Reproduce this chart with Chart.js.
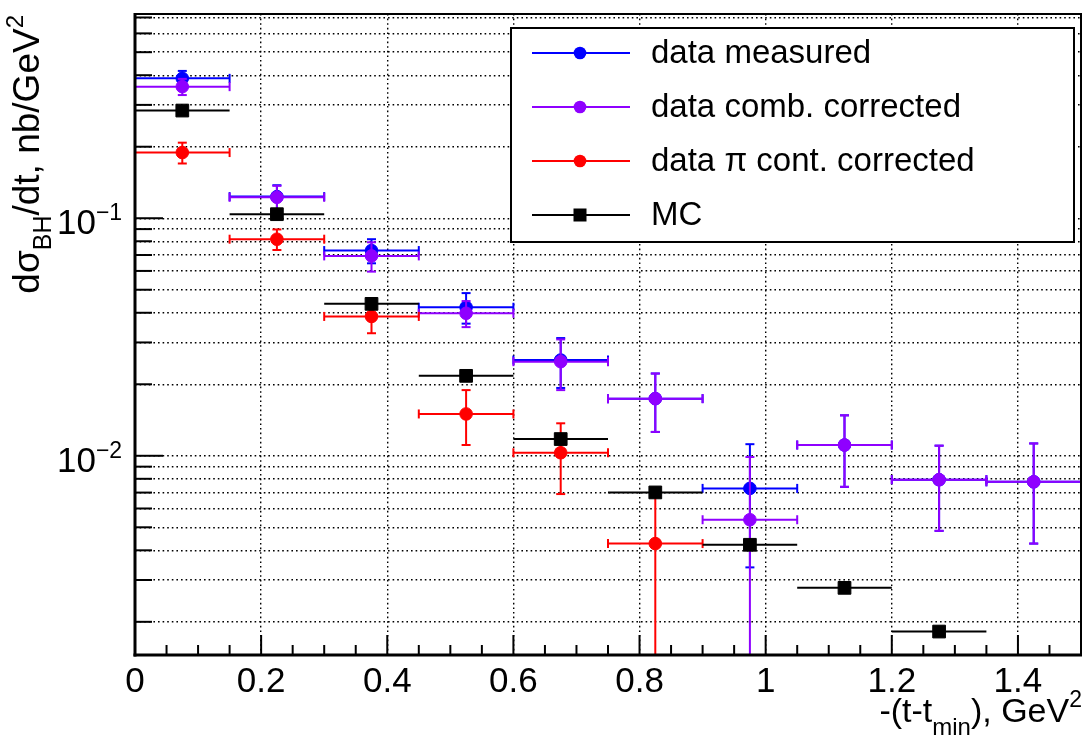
<!DOCTYPE html>
<html>
<head>
<meta charset="utf-8">
<script src="https://cdn.jsdelivr.net/npm/chart.js@4/dist/chart.umd.min.js"></script>
<style>
  html, body { margin: 0; padding: 0; background: #fff; }
</style>
</head>
<body>
<canvas id="myChart" width="1091" height="749"></canvas>
<script>
// bins in -(t-tmin), GeV^2
const binCenters = [0.075, 0.225, 0.375, 0.525, 0.675, 0.825, 0.975, 1.125, 1.275, 1.425];
const binHalfWidths = [0.075, 0.075, 0.075, 0.075, 0.075, 0.075, 0.075, 0.075, 0.075, 0.075];

// dsigma/dt, nb/GeV^2
const measured = [0.388, 0.1233, 0.0731, 0.0422, 0.0253, 0.0174, 0.00729, 0.0111, 0.00793, 0.00777];
const measuredErr = [0.029, 0.0144, 0.0085, 0.0062, 0.006, 0.0048, 0.0039, 0.0037, 0.0031, 0.0035];
const combCorrected = [0.358, 0.1225, 0.0694, 0.0398, 0.0249, 0.0174, 0.00538, 0.0111, 0.00793, 0.00777];
const combErr = [0.028, 0.0144, 0.0098, 0.005, 0.006, 0.0048, 0.0045, 0.0037, 0.0031, 0.0035];
const piCorrected = [0.189, 0.0816, 0.0386, 0.0150, 0.0103, 0.00427];
const piErr = [0.019, 0.0081, 0.0058, 0.0039, 0.0034, 0.003];
const mcValues = [0.284, 0.104, 0.0436, 0.0217, 0.01176, 0.00701, 0.00422, 0.00278, 0.00182];

const seriesLabels = ['data measured', 'data comb. corrected', 'data \u03c0 cont. corrected', 'MC'];
const seriesColors = ['#0000ff', '#8f00ff', '#ff0000', '#000000'];

// axes
const xMin = 0, xMax = 1.5;
const yMin = 0.00145, yMax = 0.724;
const xMajorTicks = [0, 0.2, 0.4, 0.6, 0.8, 1.0, 1.2, 1.4];
const xTickLabels = ['0', '0.2', '0.4', '0.6', '0.8', '1', '1.2', '1.4'];
const xMinorTicks = [0.05, 0.1, 0.15, 0.25, 0.3, 0.35, 0.45, 0.5, 0.55, 0.65, 0.7, 0.75,
                     0.85, 0.9, 0.95, 1.05, 1.1, 1.15, 1.25, 1.3, 1.35, 1.45];
const yMajorTicks = [0.01, 0.1];
const yTickExponents = ['\u22122', '\u22121'];
const yMinorTicks = [0.002, 0.003, 0.004, 0.005, 0.006, 0.007, 0.008, 0.009,
                     0.02, 0.03, 0.04, 0.05, 0.06, 0.07, 0.08, 0.09,
                     0.2, 0.3, 0.4, 0.5, 0.6, 0.7];

const FONT = "'Liberation Sans', Arial, Helvetica, sans-serif";

function points(values) {
    return values.map((v, i) => ({ x: binCenters[i], y: v }));
}

function makeSet(i, values, errs, style, radius) {
    return {
        label: seriesLabels[i],
        data: points(values),
        errX: binHalfWidths.slice(0, values.length),
        errY: errs,
        caps: !!errs,
        order: 4 - i, // later series drawn on top, like ROOT
        borderColor: seriesColors[i],
        backgroundColor: seriesColors[i],
        pointStyle: style,
        pointRadius: radius,
        pointBorderWidth: 1,
        pointBorderColor: seriesColors[i],
        pointBackgroundColor: seriesColors[i],
        showLine: false
    };
}

const datasets = [
    makeSet(0, measured, measuredErr, 'circle', 6.3),
    makeSet(1, combCorrected, combErr, 'circle', 6.3),
    makeSet(2, piCorrected, piErr, 'circle', 6.3),
    makeSet(3, mcValues, null, 'rect', 9)
];

function line(ctx, x1, y1, x2, y2) {
    ctx.beginPath();
    ctx.moveTo(x1, y1);
    ctx.lineTo(x2, y2);
    ctx.stroke();
}

// error bars, drawn right before each dataset's markers
const errorBars = {
    id: 'errorBars',
    beforeDatasetDraw(chart, args) {
        const ds = chart.data.datasets[args.index];
        const xs = chart.scales.x, ys = chart.scales.y;
        const a = chart.chartArea;
        const ctx = chart.ctx;
        ctx.save();
        ctx.beginPath();
        ctx.rect(a.left, a.top, a.right - a.left, a.bottom - a.top);
        ctx.clip();
        ctx.strokeStyle = ds.borderColor;
        ctx.lineWidth = 2;
        const cap = 4.5;
        ds.data.forEach((p, i) => {
            const px = xs.getPixelForValue(p.x);
            const py = ys.getPixelForValue(p.y);
            const xl = xs.getPixelForValue(p.x - ds.errX[i]);
            const xr = xs.getPixelForValue(p.x + ds.errX[i]);
            line(ctx, xl, py, xr, py);
            if (ds.caps) {
                line(ctx, xl, py - cap, xl, py + cap);
                line(ctx, xr, py - cap, xr, py + cap);
            }
            if (ds.errY) {
                const e = ds.errY[i];
                const yt = ys.getPixelForValue(p.y + e);
                const yb = ys.getPixelForValue(Math.max(p.y - e, 1e-6));
                line(ctx, px, yt, px, yb);
                line(ctx, px - cap, yt, px + cap, yt);
                line(ctx, px - cap, yb, px + cap, yb);
            }
        });
        ctx.restore();
    }
};

function drawRich(ctx, parts, x, y) {
    // parts: [text, size, dy]
    let cx = x;
    parts.forEach(([t, size, dy]) => {
        ctx.font = size + 'px ' + FONT;
        ctx.fillText(t, cx, y + dy);
        cx += ctx.measureText(t).width;
    });
    return cx - x;
}

function richWidth(ctx, parts) {
    let w = 0;
    parts.forEach(([t, size]) => {
        ctx.font = size + 'px ' + FONT;
        w += ctx.measureText(t).width;
    });
    return w;
}

// frame, inside ticks, labels, titles, legend
const decorations = {
    id: 'decorations',
    afterDraw(chart) {
        const ctx = chart.ctx;
        const a = chart.chartArea;
        const xs = chart.scales.x, ys = chart.scales.y;
        ctx.save();
        ctx.strokeStyle = '#000';
        ctx.fillStyle = '#000';

        // ticks
        ctx.lineWidth = 2;
        xMajorTicks.forEach(v => { const px = xs.getPixelForValue(v); line(ctx, px, a.bottom, px, a.bottom - 20); });
        xMinorTicks.forEach(v => { const px = xs.getPixelForValue(v); line(ctx, px, a.bottom, px, a.bottom - 10); });
        yMajorTicks.forEach(v => { const py = ys.getPixelForValue(v); line(ctx, a.left, py, a.left + 28, py); });
        yMinorTicks.forEach(v => { const py = ys.getPixelForValue(v); line(ctx, a.left, py, a.left + 17, py); });

        // frame
        ctx.lineWidth = 2;
        ctx.strokeRect(a.left, a.top, a.right - a.left, a.bottom - a.top);
        ctx.lineWidth = 3;
        line(ctx, a.left, a.top - 1, a.left, a.bottom + 1.5);
        line(ctx, a.left - 1.5, a.bottom, a.right + 1, a.bottom);

        // x tick labels
        ctx.textAlign = 'center';
        ctx.textBaseline = 'alphabetic';
        ctx.font = '35px ' + FONT;
        xMajorTicks.forEach((v, i) => {
            ctx.fillText(xTickLabels[i], xs.getPixelForValue(v), a.bottom + 37);
        });

        // y tick labels 10^n
        ctx.textAlign = 'left';
        yMajorTicks.forEach((v, i) => {
            const py = ys.getPixelForValue(v);
            drawRich(ctx, [['10', 35, 0], [yTickExponents[i], 23, -14]], 57, py + 16);
        });

        // x title, right aligned
        const xt = [['-(t-t', 34, 0], ['min', 24, 13], ['), GeV', 34, 0], ['2', 23, -15]];
        const xw = richWidth(ctx, xt);
        drawRich(ctx, xt, a.right + 1 - xw, a.bottom + 67);

        // y title, rotated, ending at top of frame
        const yt = [['d\u03c3', 37, 0], ['BH', 25, 12], ['/dt, nb/GeV', 37, 0], ['2', 24, -16]];
        const yw = richWidth(ctx, yt);
        ctx.save();
        ctx.translate(39, 0);
        ctx.rotate(-Math.PI / 2);
        drawRich(ctx, yt, -(a.top + 1 + yw), 0);
        ctx.restore();

        // legend
        const lx = 511, ly = 28, lw = 563, lh = 214;
        ctx.fillStyle = '#fff';
        ctx.fillRect(lx, ly, lw, lh);
        ctx.lineWidth = 2;
        ctx.strokeStyle = '#000';
        ctx.strokeRect(lx, ly, lw, lh);
        chart.data.datasets.forEach((ds, i) => {
            const cy = ly + 25 + i * 54;
            ctx.strokeStyle = ds.borderColor;
            ctx.fillStyle = ds.borderColor;
            ctx.lineWidth = 2;
            line(ctx, 532, cy, 630, cy);
            if (ds.pointStyle === 'rect') {
                ctx.fillRect(580 - 6.5, cy - 6.5, 13, 13);
            } else {
                ctx.beginPath();
                ctx.arc(580, cy, 6.3, 0, Math.PI * 2);
                ctx.fill();
            }
            ctx.fillStyle = '#000';
            ctx.font = '33px ' + FONT;
            ctx.textBaseline = 'middle';
            ctx.fillText(ds.label, 651, cy + 1);
            ctx.textBaseline = 'alphabetic';
        });
        ctx.restore();
    }
};

const gridStyle = { color: '#000', lineWidth: 1.4, drawTicks: false };

new Chart(document.getElementById('myChart').getContext('2d'), {
    type: 'scatter',
    data: { datasets: datasets },
    options: {
        responsive: false,
        animation: false,
        events: [],
        layout: { padding: { left: 135, right: 3, top: 14, bottom: 94 } },
        scales: {
            x: {
                type: 'linear',
                min: xMin,
                max: xMax,
                afterFit: s => { s.height = 0; s.paddingLeft = 0; s.paddingRight = 0; },
                afterBuildTicks: s => { s.ticks = xMajorTicks.map(v => ({ value: v })); },
                ticks: { display: false },
                grid: gridStyle,
                border: { display: false, dash: [1.6, 3] }
            },
            y: {
                type: 'logarithmic',
                min: yMin,
                max: yMax,
                afterFit: s => { s.width = 0; s.paddingTop = 0; s.paddingBottom = 0; },
                afterBuildTicks: s => { s.ticks = yMajorTicks.concat(yMinorTicks).map(v => ({ value: v })); },
                ticks: { display: false },
                grid: gridStyle,
                border: { display: false, dash: [1.6, 3] }
            }
        },
        plugins: {
            legend: { display: false },
            tooltip: { enabled: false }
        }
    },
    plugins: [errorBars, decorations]
});
</script>
</body>
</html>
